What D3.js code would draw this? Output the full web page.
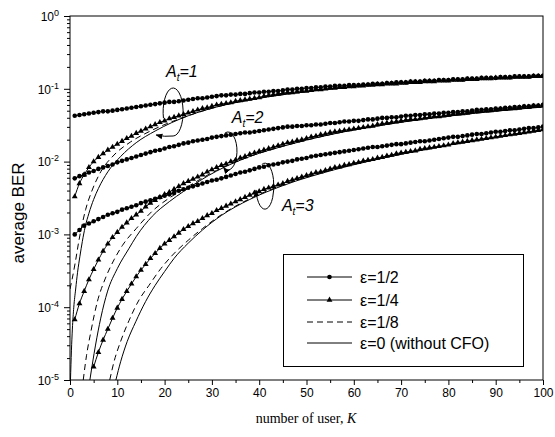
<!DOCTYPE html>
<html>
<head>
<meta charset="utf-8">
<title>average BER vs number of users</title>
<script src="https://cdn.jsdelivr.net/npm/d3@7"></script>
<style>
  body { margin: 0; background: #fff; }
  svg text { font-family: "Liberation Sans", Arial, sans-serif; fill: #000; }
</style>
</head>
<body>
<svg id="chart" width="555" height="437"></svg>
<script>
// marker curves are sampled at K = 1..100
var users = d3.range(1, 101)

// log10(average BER), eps = 1/2 (circles)
var lgHalfAt1 = [-1.37,-1.36,-1.35,-1.34,-1.33,-1.32,-1.31,-1.31,-1.30,-1.29,
  -1.28,-1.27,-1.26,-1.25,-1.24,-1.23,-1.22,-1.21,-1.20,-1.19,
  -1.18,-1.18,-1.17,-1.16,-1.15,-1.14,-1.13,-1.13,-1.12,-1.11,
  -1.10,-1.09,-1.09,-1.08,-1.08,-1.07,-1.07,-1.06,-1.05,-1.05,
  -1.04,-1.04,-1.03,-1.03,-1.02,-1.01,-1.01,-1.00,-1.00,-0.99,
  -0.99,-0.98,-0.98,-0.97,-0.97,-0.96,-0.96,-0.96,-0.95,-0.95,
  -0.95,-0.94,-0.94,-0.93,-0.93,-0.93,-0.92,-0.92,-0.91,-0.91,
  -0.91,-0.90,-0.90,-0.90,-0.89,-0.89,-0.89,-0.88,-0.88,-0.88,
  -0.87,-0.87,-0.87,-0.86,-0.86,-0.86,-0.85,-0.85,-0.85,-0.85,
  -0.84,-0.84,-0.84,-0.83,-0.83,-0.83,-0.83,-0.82,-0.82,-0.82]
var lgHalfAt2 = [-2.23,-2.20,-2.18,-2.15,-2.13,-2.10,-2.08,-2.06,-2.04,-2.01,
  -1.99,-1.97,-1.95,-1.93,-1.91,-1.89,-1.87,-1.85,-1.84,-1.82,
  -1.80,-1.79,-1.77,-1.75,-1.74,-1.72,-1.71,-1.70,-1.69,-1.67,
  -1.66,-1.65,-1.64,-1.63,-1.62,-1.61,-1.60,-1.60,-1.59,-1.58,
  -1.57,-1.56,-1.55,-1.54,-1.53,-1.52,-1.52,-1.51,-1.51,-1.50,
  -1.50,-1.49,-1.49,-1.48,-1.47,-1.47,-1.46,-1.45,-1.45,-1.44,
  -1.44,-1.43,-1.42,-1.42,-1.41,-1.40,-1.40,-1.39,-1.39,-1.38,
  -1.37,-1.37,-1.36,-1.36,-1.35,-1.35,-1.34,-1.34,-1.33,-1.33,
  -1.32,-1.32,-1.31,-1.31,-1.30,-1.29,-1.29,-1.28,-1.28,-1.27,
  -1.27,-1.26,-1.26,-1.25,-1.25,-1.24,-1.24,-1.23,-1.23,-1.22]
var lgHalfAt3 = [-3.00,-2.94,-2.88,-2.85,-2.82,-2.79,-2.76,-2.73,-2.71,-2.69,
  -2.66,-2.64,-2.62,-2.60,-2.57,-2.55,-2.53,-2.51,-2.49,-2.47,
  -2.45,-2.43,-2.40,-2.38,-2.36,-2.34,-2.32,-2.30,-2.28,-2.26,
  -2.25,-2.23,-2.21,-2.19,-2.17,-2.15,-2.14,-2.12,-2.10,-2.08,
  -2.07,-2.05,-2.04,-2.03,-2.01,-2.00,-1.99,-1.97,-1.96,-1.95,
  -1.93,-1.92,-1.91,-1.90,-1.89,-1.88,-1.87,-1.86,-1.85,-1.84,
  -1.83,-1.82,-1.81,-1.80,-1.80,-1.79,-1.78,-1.77,-1.76,-1.76,
  -1.75,-1.74,-1.73,-1.72,-1.72,-1.71,-1.70,-1.69,-1.68,-1.67,
  -1.66,-1.66,-1.65,-1.64,-1.63,-1.62,-1.62,-1.61,-1.60,-1.59,
  -1.59,-1.58,-1.57,-1.57,-1.56,-1.55,-1.54,-1.54,-1.53,-1.52]

// log10(average BER), eps = 1/4 (triangles)
var lgQuarterAt1 = [-2.48,-2.30,-2.18,-2.08,-2.00,-1.94,-1.89,-1.84,-1.80,-1.76,
  -1.72,-1.68,-1.65,-1.61,-1.58,-1.55,-1.52,-1.49,-1.46,-1.44,
  -1.41,-1.39,-1.37,-1.35,-1.33,-1.31,-1.29,-1.27,-1.26,-1.24,
  -1.22,-1.21,-1.20,-1.19,-1.17,-1.16,-1.15,-1.14,-1.13,-1.12,
  -1.10,-1.09,-1.08,-1.07,-1.06,-1.05,-1.05,-1.04,-1.03,-1.03,
  -1.02,-1.01,-1.01,-1.00,-0.99,-0.99,-0.98,-0.98,-0.97,-0.97,
  -0.96,-0.96,-0.95,-0.95,-0.94,-0.94,-0.93,-0.93,-0.93,-0.92,
  -0.92,-0.91,-0.91,-0.91,-0.90,-0.90,-0.90,-0.89,-0.89,-0.89,
  -0.88,-0.88,-0.88,-0.87,-0.87,-0.87,-0.86,-0.86,-0.86,-0.85,
  -0.85,-0.85,-0.85,-0.84,-0.84,-0.84,-0.84,-0.83,-0.83,-0.83]
var lgQuarterAt2 = [-4.17,-3.95,-3.78,-3.62,-3.48,-3.35,-3.23,-3.13,-3.04,-2.97,
  -2.90,-2.84,-2.78,-2.73,-2.68,-2.62,-2.57,-2.53,-2.49,-2.45,
  -2.42,-2.38,-2.34,-2.30,-2.27,-2.24,-2.21,-2.18,-2.14,-2.11,
  -2.08,-2.05,-2.03,-2.00,-1.98,-1.95,-1.93,-1.90,-1.88,-1.86,
  -1.84,-1.82,-1.80,-1.78,-1.76,-1.74,-1.73,-1.71,-1.70,-1.68,
  -1.66,-1.65,-1.63,-1.62,-1.60,-1.59,-1.58,-1.57,-1.56,-1.55,
  -1.54,-1.53,-1.52,-1.51,-1.49,-1.48,-1.47,-1.46,-1.45,-1.44,
  -1.43,-1.42,-1.42,-1.41,-1.40,-1.39,-1.38,-1.38,-1.37,-1.36,
  -1.35,-1.34,-1.34,-1.33,-1.32,-1.31,-1.31,-1.30,-1.30,-1.29,
  -1.28,-1.28,-1.27,-1.27,-1.26,-1.25,-1.25,-1.24,-1.24,-1.23]
var lgQuarterAt3 = [null,null,null,null,-4.82,-4.62,-4.45,-4.30,-4.15,-4.01,
  -3.89,-3.78,-3.68,-3.58,-3.49,-3.41,-3.33,-3.26,-3.19,-3.13,
  -3.08,-3.03,-2.98,-2.93,-2.89,-2.85,-2.82,-2.78,-2.74,-2.71,
  -2.67,-2.64,-2.61,-2.58,-2.55,-2.52,-2.49,-2.46,-2.43,-2.41,
  -2.38,-2.36,-2.34,-2.32,-2.30,-2.27,-2.25,-2.23,-2.21,-2.19,
  -2.17,-2.15,-2.14,-2.12,-2.10,-2.08,-2.07,-2.05,-2.04,-2.02,
  -2.01,-1.99,-1.98,-1.97,-1.95,-1.94,-1.92,-1.91,-1.89,-1.88,
  -1.87,-1.86,-1.85,-1.83,-1.82,-1.81,-1.80,-1.79,-1.78,-1.77,
  -1.75,-1.74,-1.73,-1.72,-1.71,-1.70,-1.69,-1.68,-1.67,-1.66,
  -1.65,-1.64,-1.63,-1.62,-1.61,-1.60,-1.59,-1.58,-1.57,-1.56]

// eps = 1/8 (dashed), read at uneven K
var kEighthAt1 = [0, 0.4, 1.1, 1.9, 3.3, 4.7, 6.5, 9.3, 12.8, 17, 25, 31, 40, 50, 60, 70, 85, 100]
var lgEighthAt1 = [-3.75,-3.63,-3.39,-3.08,-2.66,-2.39,-2.14,-1.91,-1.73,-1.58,-1.37,-1.25,-1.13,-1.04,-0.97,-0.92,-0.87,-0.83]
var kEighthAt2 = [2.8, 3.5, 4.4, 5.8, 7.5, 9.3, 11.1, 14, 17.4, 21, 24, 31, 38, 45, 55, 70, 85, 100]
var lgEighthAt2 = [-5,-4.66,-4.34,-3.92,-3.60,-3.35,-3.15,-2.92,-2.68,-2.50,-2.38,-2.12,-1.93,-1.79,-1.63,-1.46,-1.34,-1.25]
var kEighthAt3 = [8.4, 9.3, 10.7, 12.5, 14.6, 16.7, 19.2, 21.3, 25, 28, 32, 38, 45, 56, 70, 85, 100]
var lgEighthAt3 = [-5,-4.75,-4.47,-4.18,-3.90,-3.70,-3.47,-3.31,-3.08,-2.92,-2.73,-2.51,-2.32,-2.10,-1.90,-1.72,-1.57]

// eps = 0, without CFO (solid)
var kZeroAt1 = [0.1, 0.3, 0.5, 0.8, 1.2, 1.6, 2.1, 2.6, 3.2, 4, 5, 6, 8, 10.7, 14, 18, 25, 31, 40, 50, 60, 70, 85, 100]
var lgZeroAt1 = [-5,-4.6,-4.3,-4.0,-3.75,-3.52,-3.3,-3.1,-2.9,-2.71,-2.52,-2.37,-2.14,-1.93,-1.74,-1.58,-1.37,-1.25,-1.13,-1.04,-0.97,-0.92,-0.87,-0.83]
var kZeroAt2 = [4.2, 5.4, 6.5, 7.9, 10, 12.5, 14, 17.4, 21, 24, 31, 38, 45, 55, 70, 85, 100]
var lgZeroAt2 = [-5,-4.52,-4.15,-3.79,-3.47,-3.19,-3.03,-2.75,-2.55,-2.41,-2.13,-1.93,-1.79,-1.63,-1.46,-1.34,-1.25]
var kZeroAt3 = [9.7, 10.7, 12.1, 13.9, 16, 18, 20, 22, 25, 28, 32, 38, 45, 56, 70, 85, 100]
var lgZeroAt3 = [-5,-4.75,-4.47,-4.2,-3.92,-3.70,-3.51,-3.33,-3.12,-2.94,-2.74,-2.52,-2.33,-2.11,-1.90,-1.72,-1.57]

var xTicks = [0, 10, 20, 30, 40, 50, 60, 70, 80, 90, 100]
var yTicks = [1e-5, 1e-4, 1e-3, 1e-2, 1e-1, 1]
var legendLabels = ['\u03b5=1/2', '\u03b5=1/4', '\u03b5=1/8', '\u03b5=0 (without CFO)']

var svg = d3.select('#chart')
var x = d3.scaleLinear().domain([0, 100]).range([70, 543])
var y = d3.scaleLog().domain([1e-5, 1]).range([380, 16])

svg.append('rect').attr('width', 555).attr('height', 437).attr('fill', '#fff')

svg.append('defs').append('clipPath').attr('id', 'plotClip')
  .append('rect').attr('x', 70).attr('y', 16).attr('width', 473).attr('height', 364)

// ---- axes ----
var xMinor = d3.range(5, 100, 10)
svg.append('g').attr('transform', 'translate(0,380)')
  .call(d3.axisBottom(x).tickValues(xMinor).tickSize(3).tickFormat(''))
svg.append('g').attr('class', 'xaxis').attr('transform', 'translate(0,380)')
  .call(d3.axisBottom(x).tickValues(xTicks).tickSize(5).tickPadding(3))

var yMinor = []
yTicks.slice(0, 5).forEach(function (d) {
  for (var m = 2; m < 10; m++) yMinor.push(d * m)
})
svg.append('g').attr('transform', 'translate(70,0)')
  .call(d3.axisLeft(y).tickValues(yMinor).tickSize(3).tickFormat(''))
var yAxis = svg.append('g').attr('class', 'yaxis').attr('transform', 'translate(70,0)')
  .call(d3.axisLeft(y).tickValues(yTicks).tickSize(6).tickPadding(3).tickFormat(''))

svg.selectAll('.domain').remove()
svg.selectAll('.tick line').attr('stroke', '#000')
svg.selectAll('.xaxis text').attr('font-size', 12).attr('font-family', '"Liberation Sans", Arial, sans-serif')

yAxis.selectAll('.tick').each(function (d) {
  var t = d3.select(this).select('text')
    .attr('font-size', 12).attr('font-family', '"Liberation Sans", Arial, sans-serif')
    .attr('x', -11).attr('dy', '0.36em')
  t.append('tspan').text('10')
  t.append('tspan').attr('font-size', 9).attr('dy', -5).text(Math.round(Math.log10(d)))
})

// frame
svg.append('rect').attr('x', 70).attr('y', 16).attr('width', 473).attr('height', 364)
  .attr('fill', 'none').attr('stroke', '#000').attr('stroke-width', 1)

// ---- curves ----
var plot = svg.append('g').attr('clip-path', 'url(#plotClip)')

function pairs(ks, lgs) {
  return ks.map(function (k, i) { return { k: k, v: lgs[i] == null ? null : Math.pow(10, lgs[i]) } })
    .filter(function (d) { return d.v != null })
}
var line = d3.line().curve(d3.curveMonotoneX)
  .x(function (d) { return x(d.k) }).y(function (d) { return y(d.v) })

var solidSets = [[kZeroAt1, lgZeroAt1], [kZeroAt2, lgZeroAt2], [kZeroAt3, lgZeroAt3]]
var dashSets = [[kEighthAt1, lgEighthAt1], [kEighthAt2, lgEighthAt2], [kEighthAt3, lgEighthAt3]]
solidSets.forEach(function (s) {
  plot.append('path').datum(pairs(s[0], s[1])).attr('d', line)
    .attr('fill', 'none').attr('stroke', '#000').attr('stroke-width', 1)
})
dashSets.forEach(function (s) {
  plot.append('path').datum(pairs(s[0], s[1])).attr('d', line)
    .attr('fill', 'none').attr('stroke', '#000').attr('stroke-width', 1)
    .attr('stroke-dasharray', '6,4')
})

var triSym = d3.symbol().type(d3.symbolTriangle).size(15)
var markSets = [
  { lg: lgHalfAt1, shape: 'circle' }, { lg: lgHalfAt2, shape: 'circle' }, { lg: lgHalfAt3, shape: 'circle' },
  { lg: lgQuarterAt1, shape: 'tri' }, { lg: lgQuarterAt2, shape: 'tri' }, { lg: lgQuarterAt3, shape: 'tri' }
]
markSets.forEach(function (s) {
  var pts = pairs(users, s.lg)
  plot.append('path').datum(pts).attr('d', line)
    .attr('fill', 'none').attr('stroke', '#000').attr('stroke-width', 1)
  var g = plot.append('g')
  if (s.shape === 'circle') {
    g.selectAll('circle').data(pts).enter().append('circle')
      .attr('cx', function (d) { return x(d.k) }).attr('cy', function (d) { return y(d.v) })
      .attr('r', 2.3).attr('fill', '#000')
  } else {
    g.selectAll('path').data(pts).enter().append('path')
      .attr('d', triSym)
      .attr('transform', function (d) { return 'translate(' + x(d.k) + ',' + y(d.v) + ')' })
      .attr('fill', '#000')
  }
})

// ---- annotations: A_t loops with arrows ----
svg.select('defs').append('marker').attr('id', 'arrow')
  .attr('viewBox', '0 0 10 10').attr('refX', 9).attr('refY', 5)
  .attr('markerWidth', 7).attr('markerHeight', 7).attr('markerUnits', 'userSpaceOnUse')
  .attr('orient', 'auto')
  .append('path').attr('d', 'M0,1 L10,5 L0,9 Z').attr('fill', '#000')

var loops = [
  { label: '1', tx: 20.3, ty: 0.145, cx: 21.8, cy: 0.048, rx: 10, ry: 24, a0: 165, a1: 450, tail: [-17, -1] },
  { label: '2', tx: 34.2, ty: 0.034, cx: 33.4, cy: 0.014, rx: 9, ry: 19, a0: 250, a1: 480, tail: null },
  { label: '3', tx: 44.8, ty: 0.0021, cx: 41.2, cy: 0.0046, rx: 9, ry: 23, a0: 250, a1: 530, tail: null }
]
function pt(cx, cy, rx, ry, a) {
  var r = a * Math.PI / 180
  return [cx + rx * Math.cos(r), cy + ry * Math.sin(r)]
}
loops.forEach(function (o) {
  var cx = x(o.cx), cy = y(o.cy)
  var p0 = pt(cx, cy, o.rx, o.ry, o.a0), p1 = pt(cx, cy, o.rx, o.ry, o.a1)
  var large = (o.a1 - o.a0) > 180 ? 1 : 0
  var d = 'M' + p0[0] + ',' + p0[1] + ' A' + o.rx + ',' + o.ry + ' 0 ' + large + ' 1 ' + p1[0] + ',' + p1[1]
  if (o.tail) d += ' q' + (o.tail[0] / 2) + ',1 ' + o.tail[0] + ',' + o.tail[1]
  svg.append('path').attr('d', d).attr('fill', 'none').attr('stroke', '#000')
    .attr('stroke-width', 1).attr('marker-end', 'url(#arrow)')

  var t = svg.append('text').attr('x', x(o.tx)).attr('y', y(o.ty))
    .attr('font-size', 16).attr('font-style', 'italic')
  t.append('tspan').text('A')
  t.append('tspan').attr('font-size', 10).attr('dy', 4).text('t')
  t.append('tspan').attr('dy', -4).text('=' + o.label)
})

// ---- legend ----
var lg = svg.append('g')
lg.append('rect').attr('x', 283.5).attr('y', 254.5).attr('width', 240).attr('height', 112)
  .attr('fill', '#fff').attr('stroke', '#000').attr('stroke-width', 1)
var rowY = [277, 300, 322, 343]
legendLabels.forEach(function (name, i) {
  var yy = rowY[i]
  var l = lg.append('line').attr('x1', 307).attr('x2', 352).attr('y1', yy).attr('y2', yy)
    .attr('stroke', '#000').attr('stroke-width', 1)
  if (i === 2) l.attr('stroke-dasharray', '6,4')
  if (i === 0) lg.append('circle').attr('cx', 329.5).attr('cy', yy).attr('r', 2.3).attr('fill', '#000')
  if (i === 1) lg.append('path').attr('d', triSym).attr('transform', 'translate(329.5,' + yy + ')').attr('fill', '#000')
  lg.append('text').attr('x', 360).attr('y', yy).attr('dy', '0.36em')
    .attr('font-size', 16).text(name)
})

// ---- titles ----
var xt = svg.append('text').attr('x', 306).attr('y', 423).attr('text-anchor', 'middle')
  .attr('font-size', 14).style('font-family', '"Liberation Serif", "Times New Roman", serif')
xt.append('tspan').text('number of user, ')
xt.append('tspan').attr('font-style', 'italic').text('K')

svg.append('text').attr('transform', 'translate(24,213) rotate(-90)')
  .attr('text-anchor', 'middle').attr('font-size', 17).text('average BER')
</script>
</body>
</html>
